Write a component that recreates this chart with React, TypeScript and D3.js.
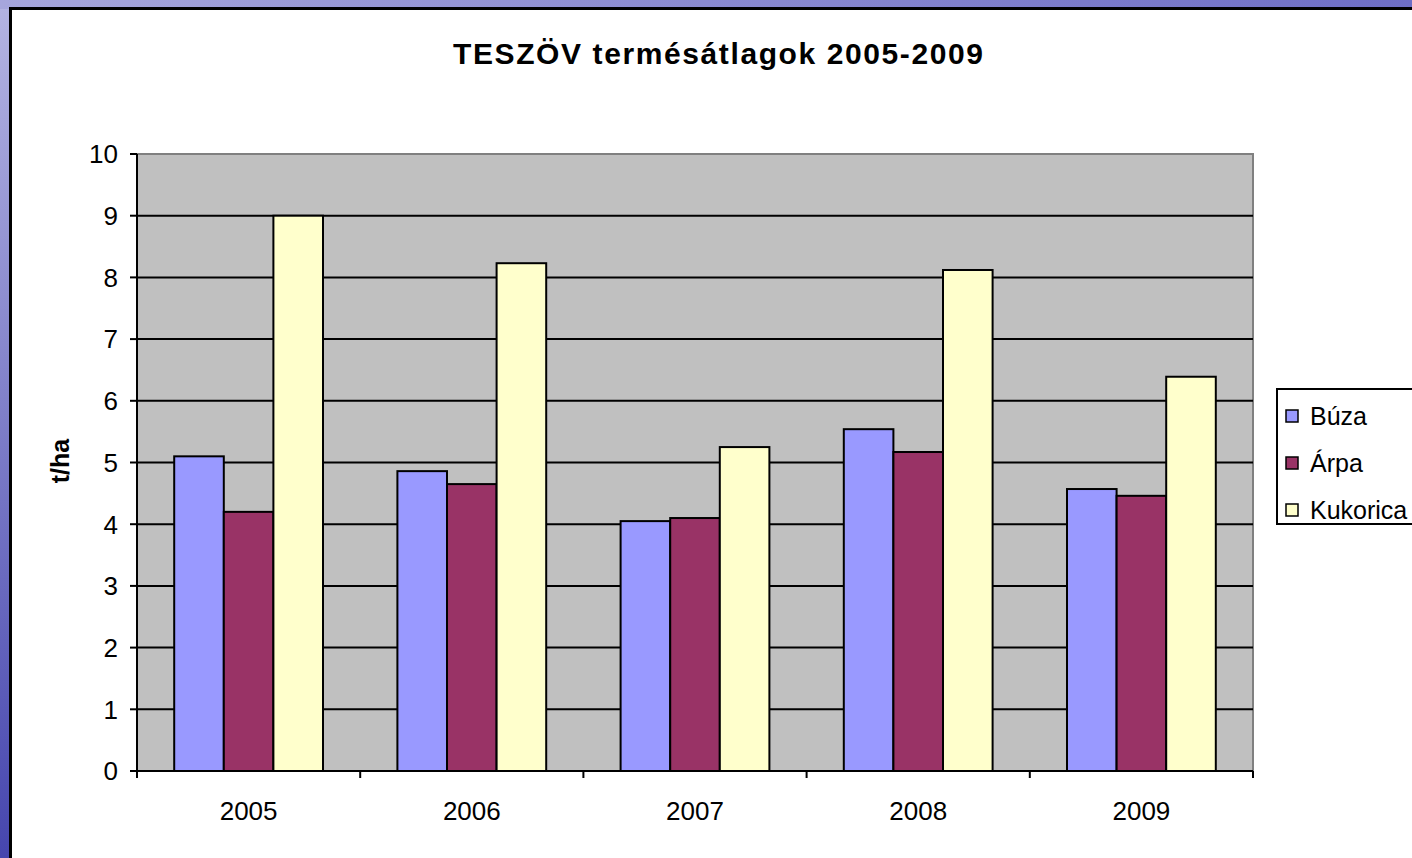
import { useRef, useEffect } from 'react';
import * as d3 from 'd3';

const W = 1412;
const H = 858;

const years = ['2005', '2006', '2007', '2008', '2009'];
const series = ['Búza', 'Árpa', 'Kukorica'];
const buza = [5.1, 4.86, 4.05, 5.54, 4.57];
const arpa = [4.2, 4.65, 4.1, 5.17, 4.46];
const kukorica = [9.0, 8.23, 5.25, 8.12, 6.39];
const colors = ['#9999ff', '#993366', '#ffffcc'];
const yTicks = [0, 1, 2, 3, 4, 5, 6, 7, 8, 9, 10];

const PLOT = { left: 137, right: 1253, top: 154, bottom: 771 };
const FONT = '"Liberation Sans", Arial, sans-serif';

export default function App() {
  const svgRef = useRef<SVGSVGElement>(null);

  useEffect(() => {
    const svg = d3.select(svgRef.current);
    svg.selectAll('*').remove();

    // slide background
    const defs = svg.append('defs');
    const grad = defs.append('linearGradient').attr('id', 'bg')
      .attr('x1', 0).attr('y1', 0).attr('x2', 0).attr('y2', 1);
    grad.append('stop').attr('offset', '0%').attr('stop-color', '#b4b4e2');
    grad.append('stop').attr('offset', '100%').attr('stop-color', '#4646ae');
    const gradTop = defs.append('linearGradient').attr('id', 'bgtop')
      .attr('x1', 0).attr('y1', 0).attr('x2', 1).attr('y2', 0);
    gradTop.append('stop').attr('offset', '0%').attr('stop-color', '#a6a6dc');
    gradTop.append('stop').attr('offset', '100%').attr('stop-color', '#6e6ec6');
    svg.append('rect').attr('width', W).attr('height', H).attr('fill', 'url(#bg)');
    svg.append('rect').attr('width', W).attr('height', 9).attr('fill', 'url(#bgtop)');

    // chart area
    svg.append('rect').attr('x', 10.5).attr('y', 8.5).attr('width', W).attr('height', H)
      .attr('fill', '#fff').attr('stroke', '#000').attr('stroke-width', 3);

    const x0 = d3.scaleBand().domain(years).range([PLOT.left, PLOT.right]);
    const bw = x0.bandwidth() / 4.5;
    const x1 = d3.scaleBand().domain(series)
      .range([x0.bandwidth() * 0.75 / 4.5, x0.bandwidth() * 3.75 / 4.5]);
    const y = d3.scaleLinear().domain([0, 10]).range([PLOT.bottom, PLOT.top]);

    // plot area
    svg.append('rect').attr('x', PLOT.left).attr('y', PLOT.top)
      .attr('width', PLOT.right - PLOT.left).attr('height', PLOT.bottom - PLOT.top)
      .attr('fill', '#c0c0c0').attr('stroke', '#808080').attr('stroke-width', 2);

    // gridlines
    svg.append('g').selectAll('line').data(yTicks.slice(1, -1)).enter()
      .append('line')
      .attr('x1', PLOT.left).attr('x2', PLOT.right)
      .attr('y1', d => y(d)).attr('y2', d => y(d))
      .attr('stroke', '#000').attr('stroke-width', 2);

    // bars
    const values = [buza, arpa, kukorica];
    series.forEach((s, si) => {
      svg.append('g').selectAll('rect').data(values[si]).enter()
        .append('rect')
        .attr('x', (d, i) => (x0(years[i]) as number) + (x1(s) as number))
        .attr('y', d => y(d))
        .attr('width', bw)
        .attr('height', d => y(0) - y(d))
        .attr('fill', colors[si])
        .attr('stroke', '#000').attr('stroke-width', 2);
    });

    // axes
    svg.append('line').attr('x1', PLOT.left).attr('x2', PLOT.left)
      .attr('y1', PLOT.top).attr('y2', PLOT.bottom + 7)
      .attr('stroke', '#000').attr('stroke-width', 2);
    svg.append('line').attr('x1', PLOT.left - 7).attr('x2', PLOT.right)
      .attr('y1', PLOT.bottom).attr('y2', PLOT.bottom)
      .attr('stroke', '#000').attr('stroke-width', 2);

    svg.append('g').selectAll('line').data(yTicks).enter()
      .append('line')
      .attr('x1', PLOT.left - 7).attr('x2', PLOT.left)
      .attr('y1', d => y(d)).attr('y2', d => y(d))
      .attr('stroke', '#000').attr('stroke-width', 2);
    svg.append('g').selectAll('text').data(yTicks).enter()
      .append('text')
      .attr('x', 118).attr('y', d => y(d))
      .attr('dy', '0.36em')
      .attr('text-anchor', 'end')
      .attr('font-family', FONT).attr('font-size', 26)
      .text(d => d);

    const bounds = years.map(yr => x0(yr) as number).concat([PLOT.right]);
    svg.append('g').selectAll('line').data(bounds).enter()
      .append('line')
      .attr('x1', d => d).attr('x2', d => d)
      .attr('y1', PLOT.bottom).attr('y2', PLOT.bottom + 7)
      .attr('stroke', '#000').attr('stroke-width', 2);
    svg.append('g').selectAll('text').data(years).enter()
      .append('text')
      .attr('x', d => (x0(d) as number) + x0.bandwidth() / 2)
      .attr('y', 820)
      .attr('text-anchor', 'middle')
      .attr('font-family', FONT).attr('font-size', 26)
      .text(d => d);

    // title
    svg.append('text')
      .attr('x', 718).attr('y', 64)
      .attr('text-anchor', 'middle')
      .attr('font-family', FONT).attr('font-size', 30).attr('font-weight', 'bold')
      .attr('textLength', 530).attr('lengthAdjust', 'spacing')
      .text('TESZÖV termésátlagok 2005-2009');

    // y label
    svg.append('text')
      .attr('transform', 'translate(69,461) rotate(-90)')
      .attr('text-anchor', 'middle')
      .attr('font-family', FONT).attr('font-size', 25).attr('font-weight', 'bold')
      .text('t/ha');

    // legend
    const lg = svg.append('g');
    lg.append('rect').attr('x', 1277).attr('y', 389).attr('width', 160).attr('height', 135)
      .attr('fill', '#fff').attr('stroke', '#000').attr('stroke-width', 2);
    series.forEach((s, i) => {
      const cy = 416 + i * 47;
      lg.append('rect').attr('x', 1286).attr('y', cy - 6).attr('width', 12).attr('height', 12)
        .attr('fill', colors[i]).attr('stroke', '#000').attr('stroke-width', 1.5);
      lg.append('text').attr('x', 1310).attr('y', cy + 9)
        .attr('font-family', FONT).attr('font-size', 25)
        .text(s);
    });
  }, []);

  return (
    <svg ref={svgRef} width={W} height={H}
      style={{ position: 'absolute', left: 0, top: 0, display: 'block' }} />
  );
}
